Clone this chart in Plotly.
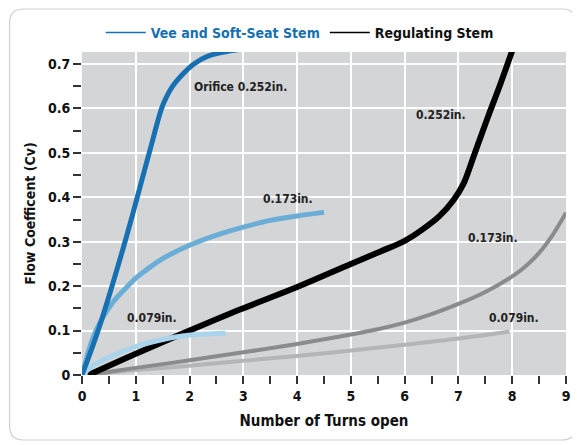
import plotly.graph_objects as go

# Vee and Soft-Seat Stem
vee_252_x = [0, 0.3, 0.8, 1.25, 1.48, 1.56, 1.68, 1.89, 2.08, 2.33, 2.64, 3.05]
vee_252_y = [0, 0.1, 0.3, 0.5, 0.6, 0.623, 0.649, 0.679, 0.70, 0.717, 0.727, 0.735]
vee_173_x = [0, 0.05, 0.15, 0.28, 0.55, 0.85, 1.0, 1.2, 1.5, 2.0, 2.5, 3.0, 3.5, 4.0, 4.5]
vee_173_y = [0, 0.022, 0.065, 0.105, 0.16, 0.2, 0.218, 0.237, 0.262, 0.292, 0.315, 0.333, 0.348, 0.358, 0.366]
vee_079_x = [0, 0.22, 0.5, 1.0, 1.5, 1.83, 2.14, 2.67]
vee_079_y = [0, 0.022, 0.04, 0.064, 0.08, 0.087, 0.091, 0.094]

# Regulating Stem
reg_252_x = [0.12, 1, 2, 2.95, 4, 5, 5.55, 6.0, 6.3, 6.64, 6.91, 7.1, 7.23, 7.35, 7.54, 7.78, 8.0]
reg_252_y = [0, 0.048, 0.1, 0.148, 0.198, 0.25, 0.278, 0.302, 0.325, 0.357, 0.394, 0.432, 0.474, 0.515, 0.578, 0.655, 0.73]
reg_173_x = [0.1, 1, 2, 3, 4, 5, 5.5, 6, 6.5, 7, 7.5, 8, 8.25, 8.5, 8.75, 9]
reg_173_y = [0, 0.016, 0.033, 0.051, 0.07, 0.091, 0.103, 0.118, 0.137, 0.16, 0.187, 0.222, 0.245, 0.275, 0.315, 0.365]
reg_079_x = [0.1, 1, 2, 3, 4, 5, 6, 7, 7.95]
reg_079_y = [0, 0.011, 0.021, 0.032, 0.043, 0.055, 0.068, 0.082, 0.098]

labels = ["Orifice 0.252in.", "0.173in.", "0.079in.", "0.252in.", "0.173in.", "0.079in."]
label_x = [2.95, 3.83, 1.31, 6.67, 7.65, 8.03]
label_y = [0.649, 0.396, 0.128, 0.586, 0.309, 0.128]

FONT = "Liberation Sans Narrow, DejaVu Sans Condensed, sans-serif"
BLUE = "#1670b2"

# page body adds an 8px offset; figure is sized to the visible area
OFF = 8
W, H = 580 - OFF, 445 - OFF
L, R, T, B = 81.5 - OFF, 566 - OFF, 52 - OFF, 375 - OFF


def bold(size, color=None):
    f = dict(family=FONT, size=size, weight="bold")
    if color:
        f["color"] = color
    return f


fig = go.Figure()

series = [
    (reg_079_x, reg_079_y, "#b4b5b7", 4),
    (reg_173_x, reg_173_y, "#8a8b8d", 4),
    (reg_252_x, reg_252_y, "#000000", 6),
    (vee_079_x, vee_079_y, "#a9d4ec", 5),
    (vee_173_x, vee_173_y, "#6aaed8", 5),
    (vee_252_x, vee_252_y, BLUE, 5),
]
for xs, ys, color, w in series:
    fig.add_trace(go.Scatter(x=xs, y=ys, mode="lines", showlegend=False, cliponaxis=True,
                             line=dict(color=color, width=w, shape="spline", smoothing=1.0)))

# legend-only traces
fig.add_trace(go.Scatter(x=[None], y=[None], mode="lines", line=dict(color=BLUE, width=1.5),
                         name=f"<span style='color:{BLUE}'>Vee and Soft-Seat Stem</span>"))
fig.add_trace(go.Scatter(x=[None], y=[None], mode="lines", line=dict(color="#000", width=1.5),
                         name="Regulating Stem"))

for t, x, y in zip(labels, label_x, label_y):
    fig.add_annotation(x=x, y=y, text=t, showarrow=False, font=bold(12, "#222"))


# card border (pixel helper -> paper)
def px(x):
    return (x - L) / (R - L)


def py(y):
    return (B - y) / (B - T)


x0, x1, y0, y1, r = 1, W - 4, 1, H - 5, 14
path = (f"M {px(x0 + r)},{py(y0)} L {px(x1 - r)},{py(y0)} "
        f"Q {px(x1)},{py(y0)} {px(x1)},{py(y0 + r)} L {px(x1)},{py(y1 - r)} "
        f"Q {px(x1)},{py(y1)} {px(x1 - r)},{py(y1)} L {px(x0 + r)},{py(y1)} "
        f"Q {px(x0)},{py(y1)} {px(x0)},{py(y1 - r)} L {px(x0)},{py(y0 + r)} "
        f"Q {px(x0)},{py(y0)} {px(x0 + r)},{py(y0)} Z")
fig.add_shape(type="path", path=path, xref="paper", yref="paper",
              line=dict(color="#cfcfcf", width=1.2), layer="below")

fig.update_layout(
    width=W, height=H,
    margin=dict(l=L, r=W - R, t=T, b=H - B, autoexpand=False),
    paper_bgcolor="white", plot_bgcolor="#d4d5d7",
    font=dict(family=FONT, size=14, color="#111"),
    legend=dict(orientation="h", x=0.51, y=1 - (17 - OFF) / H, xanchor="center", yanchor="top",
                yref="container", xref="container", font=bold(14),
                itemwidth=40, bgcolor="rgba(0,0,0,0)"),
)

fig.update_xaxes(range=[0, 9], tickvals=list(range(10)), showgrid=True, gridcolor="white",
                 gridwidth=1.5, zeroline=False, automargin=False,
                 ticks="outside", ticklen=8, tickwidth=1.5,
                 tickcolor="#333", tickfont=bold(14),
                 minor=dict(dtick=0.5, ticks="outside", ticklen=8, tickwidth=1.5,
                            tickcolor="#333", showgrid=False),
                 title=dict(text="Number of Turns open", font=bold(15), standoff=12),
                 showline=False)
fig.update_yaxes(range=[0, 0.727], tickvals=[0, 0.1, 0.2, 0.3, 0.4, 0.5, 0.6, 0.7],
                 ticktext=["0", "0.1", "0.2", "0.3", "0.4", "0.5", "0.6", "0.7"],
                 showgrid=True, gridcolor="white", gridwidth=1.5, zeroline=False,
                 automargin=False,
                 ticks="outside", ticklen=8, tickwidth=1.5, tickcolor="#333",
                 tickfont=bold(14),
                 minor=dict(dtick=0.05, ticks="outside", ticklen=8, tickwidth=1.5,
                            tickcolor="#333", showgrid=False),
                 title=dict(text="Flow Coefficent (Cv)", font=bold(14), standoff=8),
                 showline=False)

fig.write_html("out.html")
